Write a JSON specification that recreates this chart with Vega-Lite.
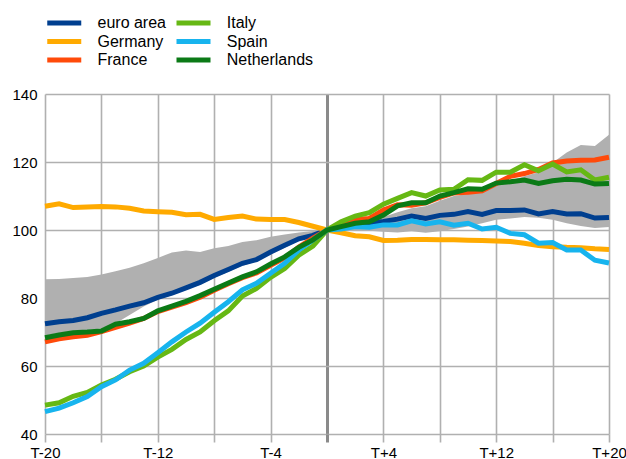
{
  "$schema": "https://vega.github.io/schema/vega-lite/v6.json",
  "width": 564,
  "height": 340,
  "autosize": {"type": "none"},
  "padding": {"left": 45, "top": 94, "right": 17, "bottom": 25},
  "config": {"view": {"stroke": null}, "font": "Liberation Sans"},
  "datasets": {
    "d": [
      {"t": -20, "euro area": 72.4, "Germany": 107.0, "France": 67.1, "Italy": 48.5, "Spain": 46.6, "Netherlands": 68.3, "lo": 69.0, "hi": 85.5},
      {"t": -19, "euro area": 73.0, "Germany": 107.7, "France": 68.0, "Italy": 49.2, "Spain": 47.6, "Netherlands": 69.1, "lo": 69.7, "hi": 85.6},
      {"t": -18, "euro area": 73.4, "Germany": 106.6, "France": 68.6, "Italy": 51.1, "Spain": 49.2, "Netherlands": 69.8, "lo": 70.3, "hi": 85.9},
      {"t": -17, "euro area": 74.2, "Germany": 106.8, "France": 69.0, "Italy": 52.2, "Spain": 51.0, "Netherlands": 70.0, "lo": 70.6, "hi": 86.2},
      {"t": -16, "euro area": 75.5, "Germany": 106.9, "France": 70.1, "Italy": 54.4, "Spain": 53.9, "Netherlands": 70.3, "lo": 71.0, "hi": 86.9},
      {"t": -15, "euro area": 76.5, "Germany": 106.8, "France": 71.4, "Italy": 56.1, "Spain": 55.9, "Netherlands": 72.3, "lo": 72.5, "hi": 87.9},
      {"t": -14, "euro area": 77.6, "Germany": 106.4, "France": 72.6, "Italy": 58.3, "Spain": 58.8, "Netherlands": 73.0, "lo": 75.0, "hi": 88.9},
      {"t": -13, "euro area": 78.6, "Germany": 105.6, "France": 74.0, "Italy": 60.0, "Spain": 60.8, "Netherlands": 74.0, "lo": 77.5, "hi": 90.2},
      {"t": -12, "euro area": 80.2, "Germany": 105.4, "France": 76.0, "Italy": 62.6, "Spain": 63.9, "Netherlands": 76.2, "lo": 79.5, "hi": 91.8},
      {"t": -11, "euro area": 81.4, "Germany": 105.2, "France": 77.3, "Italy": 64.9, "Spain": 67.1, "Netherlands": 77.6, "lo": 80.8, "hi": 93.4},
      {"t": -10, "euro area": 83.0, "Germany": 104.5, "France": 78.6, "Italy": 67.8, "Spain": 70.0, "Netherlands": 79.0, "lo": 82.4, "hi": 94.0},
      {"t": -9, "euro area": 84.6, "Germany": 104.6, "France": 80.2, "Italy": 70.0, "Spain": 72.6, "Netherlands": 80.7, "lo": 83.9, "hi": 93.5},
      {"t": -8, "euro area": 86.6, "Germany": 103.1, "France": 82.3, "Italy": 73.3, "Spain": 75.8, "Netherlands": 82.6, "lo": 85.9, "hi": 94.6},
      {"t": -7, "euro area": 88.4, "Germany": 103.7, "France": 84.2, "Italy": 76.2, "Spain": 78.9, "Netherlands": 84.4, "lo": 87.7, "hi": 95.3},
      {"t": -6, "euro area": 90.2, "Germany": 104.1, "France": 86.0, "Italy": 80.6, "Spain": 82.4, "Netherlands": 86.2, "lo": 89.5, "hi": 96.5},
      {"t": -5, "euro area": 91.3, "Germany": 103.2, "France": 87.4, "Italy": 82.8, "Spain": 84.3, "Netherlands": 87.7, "lo": 90.7, "hi": 97.0},
      {"t": -4, "euro area": 93.5, "Germany": 103.1, "France": 89.6, "Italy": 86.1, "Spain": 87.3, "Netherlands": 90.0, "lo": 92.8, "hi": 98.0},
      {"t": -3, "euro area": 95.5, "Germany": 103.1, "France": 91.8, "Italy": 88.7, "Spain": 90.2, "Netherlands": 92.1, "lo": 94.8, "hi": 98.7},
      {"t": -2, "euro area": 97.4, "Germany": 102.2, "France": 95.0, "Italy": 92.6, "Spain": 94.1, "Netherlands": 94.9, "lo": 96.8, "hi": 99.3},
      {"t": -1, "euro area": 98.4, "Germany": 101.1, "France": 97.6, "Italy": 95.3, "Spain": 97.1, "Netherlands": 97.1, "lo": 98.0, "hi": 99.7},
      {"t": 0, "euro area": 100, "Germany": 100, "France": 100, "Italy": 100, "Spain": 100, "Netherlands": 100, "lo": 100, "hi": 100},
      {"t": 1, "euro area": 100.8, "Germany": 99.2, "France": 101.5, "Italy": 102.4, "Spain": 100.3, "Netherlands": 101.0, "lo": 100.0, "hi": 100.9},
      {"t": 2, "euro area": 101.4, "Germany": 98.3, "France": 103.1, "Italy": 104.1, "Spain": 101.0, "Netherlands": 102.0, "lo": 99.9, "hi": 101.6},
      {"t": 3, "euro area": 102.0, "Germany": 98.0, "France": 103.4, "Italy": 105.1, "Spain": 100.8, "Netherlands": 102.4, "lo": 99.8, "hi": 102.2},
      {"t": 4, "euro area": 102.5, "Germany": 96.9, "France": 105.9, "Italy": 107.6, "Spain": 101.5, "Netherlands": 104.4, "lo": 99.5, "hi": 103.8},
      {"t": 5, "euro area": 103.2, "Germany": 97.0, "France": 107.4, "Italy": 109.3, "Spain": 101.5, "Netherlands": 107.1, "lo": 99.3, "hi": 105.2},
      {"t": 6, "euro area": 104.1, "Germany": 97.2, "France": 107.3, "Italy": 111.0, "Spain": 102.7, "Netherlands": 108.0, "lo": 99.6, "hi": 106.4},
      {"t": 7, "euro area": 103.4, "Germany": 97.2, "France": 108.0, "Italy": 110.0, "Spain": 101.8, "Netherlands": 108.0, "lo": 99.2, "hi": 107.0},
      {"t": 8, "euro area": 104.3, "Germany": 97.1, "France": 109.6, "Italy": 111.8, "Spain": 102.4, "Netherlands": 110.0, "lo": 99.6, "hi": 108.6},
      {"t": 9, "euro area": 104.6, "Germany": 97.1, "France": 110.9, "Italy": 112.0, "Spain": 101.4, "Netherlands": 111.0, "lo": 100.3, "hi": 110.0},
      {"t": 10, "euro area": 105.4, "Germany": 97.0, "France": 111.1, "Italy": 114.8, "Spain": 102.0, "Netherlands": 112.1, "lo": 101.0, "hi": 110.6},
      {"t": 11, "euro area": 104.6, "Germany": 96.9, "France": 111.5, "Italy": 114.6, "Spain": 100.3, "Netherlands": 112.0, "lo": 102.0, "hi": 111.0},
      {"t": 12, "euro area": 105.7, "Germany": 96.8, "France": 113.7, "Italy": 117.0, "Spain": 100.8, "Netherlands": 113.8, "lo": 103.0, "hi": 113.2},
      {"t": 13, "euro area": 105.7, "Germany": 96.6, "France": 115.8, "Italy": 117.0, "Spain": 99.0, "Netherlands": 114.2, "lo": 103.4, "hi": 114.5},
      {"t": 14, "euro area": 105.9, "Germany": 96.1, "France": 116.6, "Italy": 119.2, "Spain": 98.6, "Netherlands": 114.7, "lo": 103.8, "hi": 115.8},
      {"t": 15, "euro area": 104.7, "Germany": 95.4, "France": 117.8, "Italy": 117.4, "Spain": 96.1, "Netherlands": 113.7, "lo": 103.6, "hi": 117.0},
      {"t": 16, "euro area": 105.4, "Germany": 95.1, "France": 119.7, "Italy": 119.4, "Spain": 96.3, "Netherlands": 114.5, "lo": 103.0, "hi": 119.8},
      {"t": 17, "euro area": 104.7, "Germany": 94.9, "France": 120.3, "Italy": 117.1, "Spain": 94.1, "Netherlands": 114.9, "lo": 102.0, "hi": 122.8},
      {"t": 18, "euro area": 104.8, "Germany": 94.8, "France": 120.5, "Italy": 117.7, "Spain": 94.1, "Netherlands": 114.7, "lo": 101.2, "hi": 125.0},
      {"t": 19, "euro area": 103.5, "Germany": 94.5, "France": 120.6, "Italy": 114.7, "Spain": 91.1, "Netherlands": 113.5, "lo": 100.6, "hi": 124.7},
      {"t": 20, "euro area": 103.7, "Germany": 94.3, "France": 121.4, "Italy": 115.5, "Spain": 90.3, "Netherlands": 113.7, "lo": 100.9, "hi": 128.0}
    ]
  },
  "data": {"name": "d"},
  "layer": [
    {
      "mark": {"type": "area", "color": "#b0b0b0", "opacity": 1},
      "encoding": {
        "x": {
          "field": "t", "type": "quantitative",
          "scale": {"domain": [-20, 20], "nice": false, "zero": false},
          "axis": {
            "title": null,
            "values": [-20, -16, -12, -8, -4, 0, 4, 8, 12, 16, 20],
            "domain": false,
            "grid": true,
            "gridColor": {"condition": {"test": "datum.value === 0", "value": "#8a8a8a"}, "value": "#b0b0b0"},
            "gridWidth": {"condition": {"test": "datum.value === 0", "value": 3}, "value": 1.6},
            "gridOpacity": 1,
            "ticks": true,
            "tickSize": 8,
            "tickColor": {"condition": {"test": "datum.value === 0", "value": "#8a8a8a"}, "value": "#b0b0b0"},
            "tickWidth": {"condition": {"test": "datum.value === 0", "value": 3}, "value": 1.6},
            "labelExpr": "abs(datum.value % 8) == 4 ? (datum.value > 0 ? 'T+' + datum.value : 'T' + datum.value) : ''",
            "labelFontSize": 15,
            "labelColor": "#000000",
            "labelPadding": 3,
            "labelFlush": false,
            "labelOverlap": false
          }
        },
        "y": {
          "field": "lo", "type": "quantitative",
          "scale": {"domain": [40, 140], "nice": false, "zero": false},
          "axis": {
            "title": null,
            "values": [40, 50, 60, 70, 80, 90, 100, 110, 120, 130, 140],
            "domain": false,
            "ticks": false,
            "grid": true,
            "gridColor": "#b0b0b0",
            "gridWidth": 1.6,
            "gridOpacity": 1,
            "labelFontSize": 15,
            "labelColor": "#000000",
            "labelPadding": 8
          }
        },
        "y2": {"field": "hi"}
      }
    },
    {
      "transform": [{"fold": ["euro area", "Germany", "France", "Italy", "Spain", "Netherlands"], "as": ["country", "value"]}],
      "mark": {"type": "line", "strokeWidth": 5},
      "encoding": {
        "x": {"field": "t", "type": "quantitative"},
        "y": {"field": "value", "type": "quantitative"},
        "color": {
          "field": "country", "type": "nominal",
          "scale": {
            "domain": ["euro area", "Germany", "France", "Italy", "Spain", "Netherlands"],
            "range": ["#003f8f", "#ffaa00", "#ff4a0a", "#66b814", "#17b4ee", "#0b7a16"]
          },
          "legend": {
            "title": null,
            "orient": "none",
            "legendX": 11.25,
            "legendY": -79,
            "columns": 2,
            "symbolType": "M-4,0H4",
            "symbolSize": 72.25,
            "symbolStrokeWidth": 5,
            "labelFontSize": 16,
            "labelColor": "#000000",
            "labelOffset": 25.25,
            "rowPadding": -1.5,
            "columnPadding": 0.25,
            "padding": 0,
            "offset": 0
          }
        }
      }
    }
  ]
}
